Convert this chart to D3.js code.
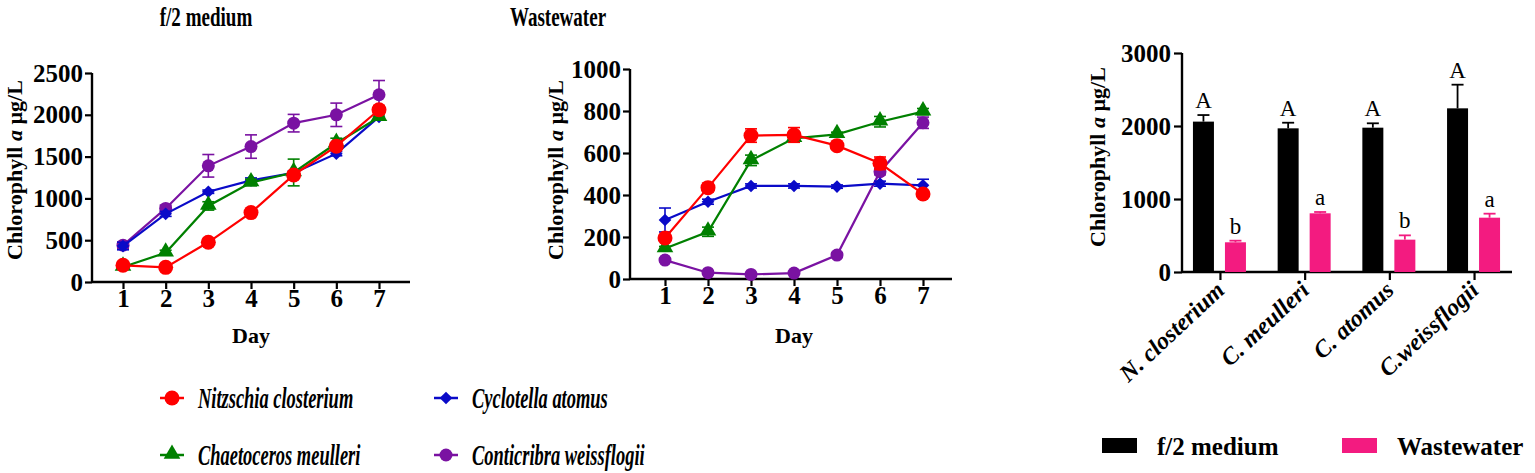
<!DOCTYPE html>
<html>
<head>
<meta charset="utf-8">
<script src="https://cdn.jsdelivr.net/npm/d3@7"></script>
<style>
  body { margin: 0; background: #fff; }
  svg { display: block; font-family: "Liberation Serif", "Times New Roman", serif; }
</style>
</head>
<body>
<div id="chart"></div>
<script>
// Days of culture
const days = [1, 2, 3, 4, 5, 6, 7];

// Species (line charts)
const speciesNames = ["Nitzschia closterium", "Cyclotella atomus", "Chaetoceros meulleri", "Conticribra weissflogii"];
const speciesColors = ["#ff0000", "#0a0ac8", "#008000", "#7a12a2"];
const speciesShapes = ["circle", "diamond", "triangle", "smallCircle"];

// f/2 medium, chlorophyll a (µg/L)
const nitzF2 = [200, 175, 475, 830, 1280, 1625, 2060];
const cycF2 = [430, 815, 1080, 1215, 1305, 1535, 1975];
const chaF2 = [180, 350, 910, 1190, 1310, 1660, 1970];
const conF2 = [440, 880, 1390, 1620, 1900, 2000, 2240];
const nitzF2Err = [30, 20, 25, 25, 40, 40, 50];
const cycF2Err = [45, 30, 20, 30, 25, 25, 30];
const chaF2Err = [25, 30, 50, 40, 160, 60, 30];
const conF2Err = [40, 40, 135, 140, 105, 140, 170];

// Wastewater, chlorophyll a (µg/L)
const nitzWW = [195, 435, 683, 686, 635, 551, 405];
const cycWW = [281, 368, 443, 443, 440, 454, 446];
const chaWW = [145, 225, 565, 670, 689, 749, 797];
const conWW = [90, 30, 22, 28, 114, 511, 744];
const nitzWWErr = [15, 20, 32, 35, 10, 30, 12];
const cycWWErr = [57, 12, 10, 10, 8, 12, 29];
const chaWWErr = [10, 22, 25, 15, 10, 25, 15];
const conWWErr = [8, 5, 5, 5, 12, 15, 27];

// Bar chart (day 7)
const barCategories = ["N. closterium", "C. meulleri", "C. atomus", "C.weissflogii"];
const barGroups = ["f/2 medium", "Wastewater"];
const barColors = ["#000000", "#f31b80"];
const barF2 = [2060, 1968, 1977, 2242];
const barF2Err = [90, 77, 60, 324];
const barWW = [407, 804, 443, 744];
const barWWErr = [22, 18, 59, 55];
const barF2Letters = ["A", "A", "A", "A"];
const barWWLetters = ["b", "a", "b", "a"];

const f2Ticks = [0, 500, 1000, 1500, 2000, 2500];
const wwTicks = [0, 200, 400, 600, 800, 1000];
const barTicks = [0, 1000, 2000, 3000];

const svg = d3.select("#chart").append("svg")
  .attr("width", 1535).attr("height", 473);

svg.append("rect").attr("width", 1535).attr("height", 473).attr("fill", "#fff");

// marker shapes
function marker(sel, shape, color) {
  if (shape === "circle") {
    sel.append("circle").attr("r", 7.5).attr("fill", color);
  } else if (shape === "smallCircle") {
    sel.append("circle").attr("r", 6.5).attr("fill", color);
  } else if (shape === "diamond") {
    sel.append("path").attr("d", d3.symbol(d3.symbolSquare, 80)()).attr("transform", "rotate(45)").attr("fill", color);
  } else {
    sel.append("path").attr("d", d3.symbol(d3.symbolTriangle, 120)()).attr("transform", "translate(0,-1)").attr("fill", color);
  }
}

function yTitle(x, y) {
  const t = svg.append("text")
    .attr("transform", `translate(${x},${y}) rotate(-90)`)
    .attr("text-anchor", "middle")
    .attr("font-weight", "bold")
    .attr("font-size", 22);
  t.append("tspan").text("Chlorophyll ");
  t.append("tspan").attr("font-style", "italic").text("a");
  t.append("tspan").text(" µg/L");
}

function styleAxis(g, size) {
  g.select(".domain").remove();
  g.selectAll(".tick line").attr("stroke", "#000").attr("stroke-width", 2.2);
  g.selectAll(".tick text").attr("font-size", size).attr("font-weight", "bold").attr("fill", "#000")
    .attr("font-family", "Liberation Serif, serif");
}

function lineChart(cfg) {
  const x = d3.scaleLinear().domain([1, 7]).range(cfg.xr);
  const y = d3.scaleLinear().domain([0, cfg.ymax]).range(cfg.yr);

  // title
  svg.append("text")
    .attr("transform", `translate(${cfg.titleX},26) scale(0.68,1)`)
    .attr("text-anchor", "middle").attr("font-weight", "bold").attr("font-size", 28)
    .text(cfg.title);

  const gy = svg.append("g").attr("transform", `translate(${cfg.axisX0},0)`)
    .call(d3.axisLeft(y).tickValues(cfg.ticks).tickFormat(d3.format("d")).tickSize(7).tickPadding(2).tickSizeOuter(0));
  styleAxis(gy, 25);
  svg.append("line").attr("x1", cfg.axisX0).attr("x2", cfg.axisX0)
    .attr("y1", y(0) + 1).attr("y2", y(cfg.ymax))
    .attr("stroke", "#000").attr("stroke-width", 2.4);

  const gx = svg.append("g").attr("transform", `translate(0,${y(0)})`)
    .call(d3.axisBottom(x).tickValues(days).tickFormat(d3.format("d")).tickSize(7).tickPadding(0));
  styleAxis(gx, 25);
  svg.append("line").attr("x1", cfg.axisX0).attr("x2", cfg.axisX1)
    .attr("y1", y(0)).attr("y2", y(0))
    .attr("stroke", "#000").attr("stroke-width", 2.4);

  svg.append("text").attr("x", x(4)).attr("y", 343)
    .attr("text-anchor", "middle").attr("font-weight", "bold").attr("font-size", 22)
    .text("Day");

  yTitle(cfg.titleYX, 170);

  const line = d3.line().x((d, i) => x(days[i])).y(d => y(d));

  cfg.drawOrder.forEach(si => {
    const vals = cfg.values[si], errs = cfg.errors[si], col = speciesColors[si];
    const g = svg.append("g");
    vals.forEach((v, i) => {
      const cx = x(days[i]);
      g.append("line").attr("x1", cx).attr("x2", cx)
        .attr("y1", y(v - errs[i])).attr("y2", y(v + errs[i]))
        .attr("stroke", col).attr("stroke-width", 1.6);
      [v - errs[i], v + errs[i]].forEach(e => {
        g.append("line").attr("x1", cx - 6).attr("x2", cx + 6)
          .attr("y1", y(e)).attr("y2", y(e))
          .attr("stroke", col).attr("stroke-width", 1.6);
      });
    });
    g.append("path").datum(vals).attr("d", line)
      .attr("fill", "none").attr("stroke", col).attr("stroke-width", 2.2);
    vals.forEach((v, i) => {
      const m = g.append("g").attr("transform", `translate(${x(days[i])},${y(v)})`);
      marker(m, speciesShapes[si], col);
    });
  });
}

lineChart({
  title: "f/2 medium", titleX: 206, titleYX: 22,
  xr: [123, 379], yr: [282, 73], ymax: 2500, ticks: f2Ticks,
  axisX0: 92, axisX1: 410,
  values: [nitzF2, cycF2, chaF2, conF2],
  errors: [nitzF2Err, cycF2Err, chaF2Err, conF2Err],
  drawOrder: [3, 1, 2, 0]
});

lineChart({
  title: "Wastewater", titleX: 558, titleYX: 563,
  xr: [665, 923], yr: [279, 69], ymax: 1000, ticks: wwTicks,
  axisX0: 630, axisX1: 952,
  values: [nitzWW, cycWW, chaWW, conWW],
  errors: [nitzWWErr, cycWWErr, chaWWErr, conWWErr],
  drawOrder: [3, 1, 2, 0]
});

// line legend
const legPos = [[172, 398], [446, 398], [172, 455], [446, 455]];
speciesNames.forEach((name, i) => {
  const [lx, ly] = legPos[i];
  const g = svg.append("g").attr("transform", `translate(${lx},${ly})`);
  g.append("line").attr("x1", -12).attr("x2", 12).attr("stroke", speciesColors[i]).attr("stroke-width", 2.5);
  marker(g, speciesShapes[i], speciesColors[i]);
  g.append("text")
    .attr("transform", "translate(26,10) scale(0.615,1)")
    .attr("font-weight", "bold").attr("font-style", "italic").attr("font-size", 30)
    .text(name);
});

// bar chart
const by = d3.scaleLinear().domain([0, 3000]).range([272, 53]);
const bx = d3.scalePoint().domain(barCategories).range([1182, 1512]).padding(0.448);
const sub = d3.scaleBand().domain(barGroups).range([-27, 26]).paddingInner(0.344);

const gby = svg.append("g").attr("transform", "translate(1182,0)")
  .call(d3.axisLeft(by).tickValues(barTicks).tickFormat(d3.format("d")).tickSize(8).tickPadding(3).tickSizeOuter(0));
styleAxis(gby, 25);
svg.append("line").attr("x1", 1182).attr("x2", 1182).attr("y1", by(0) + 1).attr("y2", by(3000))
  .attr("stroke", "#000").attr("stroke-width", 2.4);

const gbx = svg.append("g").attr("transform", `translate(0,${by(0)})`)
  .call(d3.axisBottom(bx).tickSize(8).tickFormat(""));
styleAxis(gbx, 20);
svg.append("line").attr("x1", 1182).attr("x2", 1512).attr("y1", by(0)).attr("y2", by(0))
  .attr("stroke", "#000").attr("stroke-width", 2.4);

yTitle(1105, 157);

const barSets = [
  { vals: barF2, errs: barF2Err, letters: barF2Letters },
  { vals: barWW, errs: barWWErr, letters: barWWLetters }
];
barSets.forEach((set, gi) => {
  const grp = barGroups[gi];
  barCategories.forEach((cat, i) => {
    const x0 = bx(cat) + sub(grp), w = sub.bandwidth(), cx = x0 + w / 2;
    const v = set.vals[i], e = set.errs[i];
    svg.append("line").attr("x1", cx).attr("x2", cx).attr("y1", by(v)).attr("y2", by(v + e))
      .attr("stroke", barColors[gi]).attr("stroke-width", 1.8);
    svg.append("line").attr("x1", cx - 6).attr("x2", cx + 6).attr("y1", by(v + e)).attr("y2", by(v + e))
      .attr("stroke", barColors[gi]).attr("stroke-width", 1.8);
    svg.append("rect").attr("x", x0).attr("y", by(v)).attr("width", w).attr("height", by(0) - by(v))
      .attr("fill", barColors[gi]);
    svg.append("text").attr("x", cx).attr("y", by(v + e) - 7)
      .attr("text-anchor", "middle").attr("font-size", 23)
      .text(set.letters[i]);
  });
});

barCategories.forEach(cat => {
  svg.append("text")
    .attr("transform", `translate(${bx(cat) + 6},${by(0) + 20}) rotate(-43)`)
    .attr("text-anchor", "end").attr("font-weight", "bold").attr("font-style", "italic").attr("font-size", 24)
    .text(cat);
});

// bar legend
const barLegX = [1102, 1342];
barGroups.forEach((grp, i) => {
  svg.append("rect").attr("x", barLegX[i]).attr("y", 438).attr("width", 35).attr("height", 15)
    .attr("fill", barColors[i]);
  svg.append("text").attr("x", barLegX[i] + 55).attr("y", 455)
    .attr("font-weight", "bold").attr("font-size", 25)
    .text(grp);
});
</script>
</body>
</html>
